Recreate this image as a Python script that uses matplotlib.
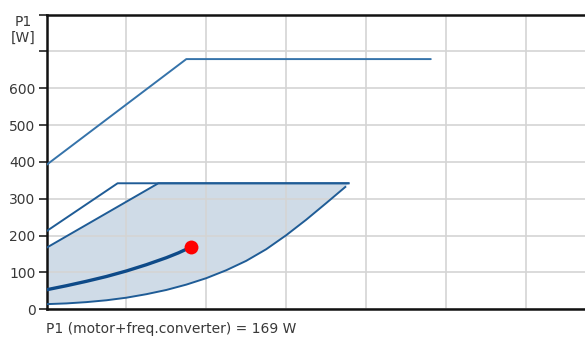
import matplotlib
matplotlib.use("Agg")
import matplotlib.pyplot as plt
import matplotlib.transforms as mtransforms
import numpy as np

# Power curves (x in grid units, P1 in W)
top_x = [0.0, 1.75, 4.81]
top_y = [392, 679, 679]

second_x = [0.0, 0.89, 3.78]
second_y = [212, 342, 342]

upper_x = [0.0, 1.40, 3.78]
upper_y = [167, 342, 342]

lower_x = [0.0, 0.25, 0.5, 0.75, 1.0, 1.25, 1.5, 1.75, 2.0, 2.25, 2.5, 2.75,
           3.0, 3.25, 3.5, 3.62, 3.74]
lower_y = [14, 16, 19.5, 24.5, 31.5, 41, 52.5, 67, 84.5, 106, 131.5, 163,
           201, 243, 288, 310, 332]

duty_x = [0.0, 0.25, 0.5, 0.75, 1.0, 1.25, 1.5, 1.65, 1.81]
duty_y = [53, 64, 76, 89, 104, 121, 140, 153, 169]

duty_point_x = 1.81
duty_point_p1 = 169

y_ticks = [0, 100, 200, 300, 400, 500, 600, 700, 800]
y_tick_labels = ["0", "100", "200", "300", "400", "500", "600", "", ""]
x_grid = [1, 2, 3, 4, 5, 6]

text_color = "#383838"
line_color = "#1f5c96"
top_line_color = "#3573aa"
fill_color = "#cfdbe7"
font = "DejaVu Sans"
fsize = 10

fig = plt.figure(figsize=(5.85, 3.38), dpi=100)
ax = fig.add_axes([46.5 / 585, (338 - 309.3) / 338, 1 - 46.5 / 585, (309.3 - 14.5) / 338])

ax.set_xlim(0, 6.74)
ax.set_ylim(0, 800)

# grid
ax.set_xticks(x_grid)
ax.set_yticks(y_ticks)
ax.grid(True, color="#d4d4d4", linewidth=1.2, zorder=0)
ax.tick_params(axis="x", length=0, labelbottom=False)
ax.tick_params(axis="y", length=6, width=1.2, pad=2.0, color="#222222",
               labelsize=fsize, labelcolor=text_color)
ax.set_yticklabels(y_tick_labels, fontfamily=font)

for side in ("left", "bottom", "top"):
    ax.spines[side].set_color("#111111")
    ax.spines[side].set_linewidth(1.8)
ax.spines["right"].set_visible(False)

# shaded operating area
poly_x = np.concatenate([upper_x, lower_x[::-1]])
poly_y = np.concatenate([upper_y, lower_y[::-1]])
ax.fill(poly_x, poly_y, color=fill_color, zorder=1, linewidth=0)

ax.plot(top_x, top_y, color=top_line_color, lw=1.4, zorder=3, solid_capstyle="round")
ax.plot(second_x, second_y, color=line_color, lw=1.4, zorder=3)
ax.plot(upper_x, upper_y, color=line_color, lw=1.4, zorder=3)
ax.plot(lower_x, lower_y, color=line_color, lw=1.4, zorder=3)
ax.plot(duty_x, duty_y, color="#0e4a88", lw=2.4, zorder=4, solid_capstyle="round")
ax.plot([duty_point_x], [duty_point_p1], "o", color="#ff0000", markersize=10,
        markeredgewidth=0, zorder=5)

# axis caption at the top tick
cap_tr = mtransforms.offset_copy(ax.get_yaxis_transform(), fig=fig, x=-11, y=-1.0,
                                 units="dots")
ax.text(0, 800, "P1\n[W]", transform=cap_tr, ha="right", va="top",
        fontsize=fsize, color=text_color, family=font, linespacing=1.1,
        multialignment="center", clip_on=False)

fig.text(46 / 585, (338 - 329) / 338, f"P1 (motor+freq.converter) = {duty_point_p1} W",
         ha="left", va="center", fontsize=fsize, color=text_color, family=font)

fig.savefig("out.png", dpi=100)
